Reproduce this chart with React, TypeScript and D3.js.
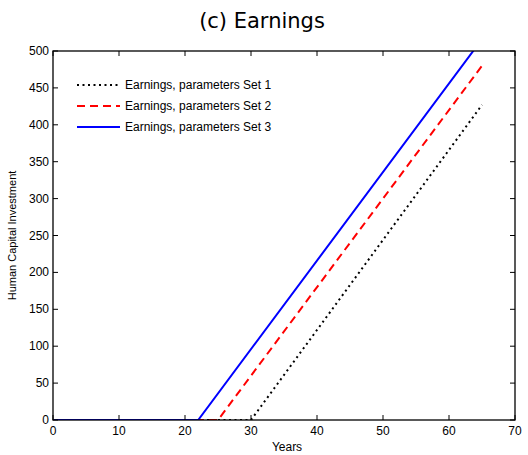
import React from "react";
import * as d3 from "d3";

const xTicks = [0, 10, 20, 30, 40, 50, 60, 70];
const yTicks = [0, 50, 100, 150, 200, 250, 300, 350, 400, 450, 500];

const set1Years = [0, 30, 65];
const set1Values = [0, 0, 427];
const set2Years = [0, 25, 65];
const set2Values = [0, 0, 480];
const set3Years = [0, 22, 65];
const set3Values = [0, 0, 516];

const seriesNames = [
  "Earnings, parameters Set 1",
  "Earnings, parameters Set 2",
  "Earnings, parameters Set 3",
];

const W = 528, H = 455;
const L = 53, R = 515, T = 51, B = 420;

export default function App() {
  const x = d3.scaleLinear().domain([0, 70]).range([L, R]);
  const y = d3.scaleLinear().domain([0, 500]).range([B, T]);
  const line = d3.line<[number, number]>().x(d => x(d[0])).y(d => y(d[1]));
  const mk = (ys: number[], vs: number[]) => ys.map((v, i) => [v, vs[i]] as [number, number]);
  const series = [
    { d: mk(set1Years, set1Values), color: "#000", dash: "2,3.5", w: 2, cap: "butt" },
    { d: mk(set2Years, set2Values), color: "#ff0000", dash: "8,5", w: 2, cap: "butt" },
    { d: mk(set3Years, set3Values), color: "#0000ff", dash: "none", w: 2, cap: "butt" },
  ];
  const font = "'Liberation Sans', Arial, sans-serif";
  return (
    <svg width={W} height={H} style={{ position: "absolute", left: 0, top: 0, background: "#fff" }}>
      <defs>
        <clipPath id="clip">
          <rect x={L} y={T} width={R - L} height={B - T} />
        </clipPath>
      </defs>
      <rect x={0} y={0} width={W} height={H} fill="#fff" />
      <text x={262} y={28} textAnchor="middle" fontSize={21} fontFamily="'DejaVu Sans', sans-serif" fill="#000">(c) Earnings</text>
      <g clipPath="url(#clip)">
        {series.map((s, i) => (
          <path key={i} d={line(s.d) || ""} fill="none" stroke={s.color} strokeWidth={s.w}
            strokeDasharray={s.dash} strokeLinecap={s.cap as any} />
        ))}
      </g>
      <rect x={L} y={T} width={R - L} height={B - T} fill="none" stroke="#000" strokeWidth={1.3} />
      {xTicks.map(t => (
        <g key={"x" + t}>
          <line x1={x(t)} x2={x(t)} y1={B} y2={B - 5} stroke="#000" />
          <line x1={x(t)} x2={x(t)} y1={T} y2={T + 5} stroke="#000" />
          <text x={x(t)} y={B + 15} textAnchor="middle" fontSize={12} fontFamily={font} fill="#000">{t}</text>
        </g>
      ))}
      {yTicks.map(t => (
        <g key={"y" + t}>
          <line x1={L} x2={L + 5} y1={y(t)} y2={y(t)} stroke="#000" />
          <line x1={R} x2={R - 5} y1={y(t)} y2={y(t)} stroke="#000" />
          <text x={L - 4} y={y(t) + 4} textAnchor="end" fontSize={12} fontFamily={font} fill="#000">{t}</text>
        </g>
      ))}
      <text x={287} y={451} textAnchor="middle" fontSize={12} fontFamily={font} fill="#000">Years</text>
      <text transform={`translate(16,${(T + B) / 2}) rotate(-90)`} textAnchor="middle" fontSize={11} fontFamily={font} fill="#000">Human Capital Investment</text>
      {series.map((s, i) => (
        <g key={"lg" + i}>
          <line x1={77} x2={120} y1={85 + i * 21} y2={85 + i * 21} stroke={s.color} strokeWidth={s.w} strokeDasharray={s.dash} />
          <text x={125} y={89 + i * 21} fontSize={12} fontFamily={font} fill="#000">{seriesNames[i]}</text>
        </g>
      ))}
    </svg>
  );
}
